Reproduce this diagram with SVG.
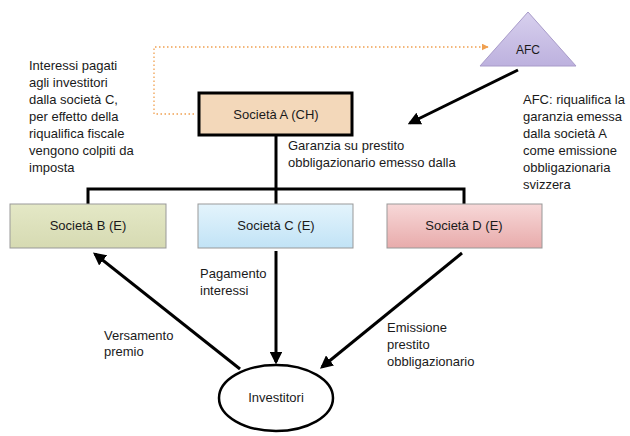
<svg xmlns="http://www.w3.org/2000/svg" width="630" height="436" viewBox="0 0 630 436">
<style>
text{font-family:"Liberation Sans",Arial,sans-serif;font-size:13px;fill:#1a1a1a}
.c{text-anchor:middle}
.conn{stroke:#000;stroke-width:3;fill:none}
.box{stroke:#999;stroke-width:1}
</style>
<defs>
<linearGradient id="gB" x1="0" y1="0" x2="0" y2="1"><stop offset="0" stop-color="#e4e8c6"/><stop offset="1" stop-color="#d6dab2"/></linearGradient>
<linearGradient id="gC" x1="0" y1="0" x2="0" y2="1"><stop offset="0" stop-color="#e4f4fc"/><stop offset="1" stop-color="#c1e3f6"/></linearGradient>
<linearGradient id="gD" x1="0" y1="0" x2="0" y2="1"><stop offset="0" stop-color="#f7d8d8"/><stop offset="1" stop-color="#e8abab"/></linearGradient>
<linearGradient id="gT" x1="0" y1="0" x2="0" y2="1"><stop offset="0" stop-color="#d8d0ee"/><stop offset="1" stop-color="#bdb1de"/></linearGradient>
<marker id="ah" viewBox="0 0 10 10" refX="8" refY="5" markerWidth="4.3" markerHeight="4.3" orient="auto" markerUnits="strokeWidth"><path d="M0,0 L10,5 L0,10 z" fill="#000"/></marker>
<marker id="ao" viewBox="0 0 10 10" refX="9" refY="5" markerWidth="7" markerHeight="7" orient="auto" markerUnits="userSpaceOnUse"><path d="M0,0 L10,5 L0,10 z" fill="#f0a050"/></marker>
</defs>

<g id="connectors">
<polyline points="194,114 154,114 154,47 488,47" fill="none" stroke="#f0a050" stroke-width="1.3" stroke-dasharray="1.5,2.5" marker-end="url(#ao)"/>
<line class="conn" x1="518" y1="70" x2="410" y2="123" marker-end="url(#ah)"/>
<polyline class="conn" points="276,136 276,189"/>
<polyline class="conn" points="88,204 88,189 464,189 464,204"/>
<line class="conn" x1="276" y1="189" x2="276" y2="204"/>
<line class="conn" x1="240" y1="369" x2="95" y2="254" marker-end="url(#ah)"/>
<line class="conn" x1="276" y1="251" x2="276" y2="362" marker-end="url(#ah)"/>
<line class="conn" x1="462" y1="253" x2="322" y2="367" marker-end="url(#ah)"/>
</g>

<g id="afc">
<polygon points="528,12 480,66 576,66" fill="url(#gT)" stroke="#a89bc9" stroke-width="1"/>
<text class="c" x="528" y="54" style="font-size:12px">AFC</text>
</g>

<g id="societaA">
<rect x="199" y="93" width="153" height="42" fill="#f3d8ba" stroke="#000" stroke-width="3"/>
<text class="c" x="276" y="119">Società A (CH)</text>
</g>

<g id="societaB">
<rect class="box" x="10" y="204" width="156" height="44" fill="url(#gB)"/>
<text class="c" x="88" y="230">Società B (E)</text>
</g>

<g id="societaC">
<rect class="box" x="198" y="204" width="155" height="44" fill="url(#gC)"/>
<text class="c" x="276" y="230">Società C (E)</text>
</g>

<g id="societaD">
<rect class="box" x="387" y="204" width="155" height="44" fill="url(#gD)"/>
<text class="c" x="464" y="230">Società D (E)</text>
</g>

<g id="investitori">
<ellipse cx="276" cy="398" rx="57" ry="33" fill="#fff" stroke="#000" stroke-width="2.5"/>
<text class="c" x="276" y="402">Investitori</text>
</g>

<g id="labels">
<text x="29" y="70">Interessi pagati</text>
<text x="29" y="87">agli investitori</text>
<text x="29" y="104">dalla società C,</text>
<text x="29" y="121">per effetto della</text>
<text x="29" y="138">riqualifica fiscale</text>
<text x="29" y="155">vengono colpiti da</text>
<text x="29" y="172">imposta</text>

<text x="288" y="150">Garanzia su prestito</text>
<text x="288" y="167">obbligazionario emesso dalla</text>

<text x="523" y="104">AFC: riqualifica la</text>
<text x="523" y="121">garanzia emessa</text>
<text x="523" y="138">dalla società A</text>
<text x="523" y="155">come emissione</text>
<text x="523" y="172">obbligazionaria</text>
<text x="523" y="189">svizzera</text>

<text x="200" y="278">Pagamento</text>
<text x="200" y="295">interessi</text>

<text x="104" y="340">Versamento</text>
<text x="104" y="356">premio</text>

<text x="387" y="332">Emissione</text>
<text x="387" y="349">prestito</text>
<text x="387" y="366">obbligazionario</text>
</g>
</svg>
